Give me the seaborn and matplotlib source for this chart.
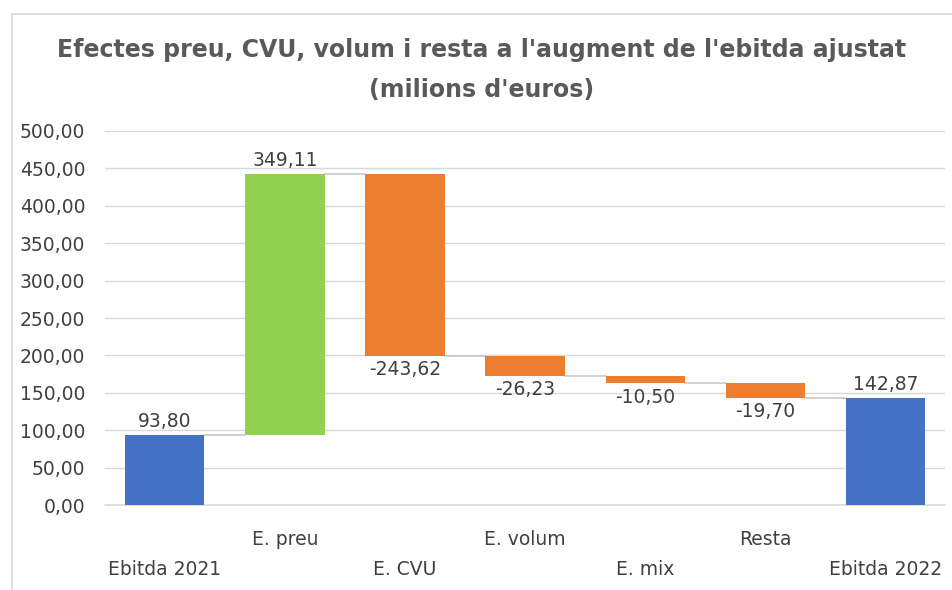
import numpy as np
import pandas as pd
import seaborn as sns
import matplotlib.pyplot as plt
from matplotlib.patches import Rectangle

# Waterfall data (milions d'euros)
categories = ['Ebitda 2021', 'E. preu', 'E. CVU', 'E. volum', 'E. mix', 'Resta', 'Ebitda 2022']
values = [93.80, 349.11, -243.62, -26.23, -10.50, -19.70, 142.87]
kinds = ['total', 'delta', 'delta', 'delta', 'delta', 'delta', 'total']
labels = ['93,80', '349,11', '-243,62', '-26,23', '-10,50', '-19,70', '142,87']

sns.set_theme(style='white')
plt.rcParams['font.family'] = ['DejaVu Sans']

# Running totals -> bottoms and heights of the floating bars
bottoms, heights, levels = [], [], []
run = 0.0
for v, k in zip(values, kinds):
    if k == 'total':
        bottoms.append(0.0)
        heights.append(v)
        run = v
    else:
        start = run
        run = run + v
        bottoms.append(min(start, run))
        heights.append(abs(v))
    levels.append(run)

df = pd.DataFrame({'cat': categories, 'height': heights, 'bottom': bottoms})

blue, green, orange = '#4472C4', '#92D050', '#ED7D31'
colors = [blue if k == 'total' else (green if v > 0 else orange) for v, k in zip(values, kinds)]

fig = plt.figure(figsize=(9.53, 5.90), dpi=100)
ax = fig.add_axes([0.110, 0.144, 0.882, 0.634])

sns.barplot(data=df, x='cat', y='height', bottom=df['bottom'].values, order=categories,
            color=blue, width=0.66, ax=ax, zorder=3)
for p, c in zip(ax.patches, colors):
    p.set_facecolor(c)
    p.set_edgecolor('none')

# connectors
w = 0.66
for i in range(len(categories) - 1):
    ax.plot([i + w / 2, i + 1 - w / 2], [levels[i], levels[i]], color='#C8C8C8', lw=1.2, zorder=2)

# data labels
for i, (v, k, lab) in enumerate(zip(values, kinds, labels)):
    top = bottoms[i] + heights[i]
    if v >= 0:
        ax.annotate(lab, (i, top), xytext=(0, 3), textcoords='offset points',
                    ha='center', va='bottom', fontsize=13.5, color='#404040')
    else:
        ax.annotate(lab, (i, bottoms[i]), xytext=(0, -3), textcoords='offset points',
                    ha='center', va='top', fontsize=13.5, color='#404040')

ax.set_ylim(0, 500)
ax.set_xlim(-0.5, len(categories) - 0.5)
ax.set_yticks(np.arange(0, 501, 50))
ax.set_yticklabels([f'{t:.2f}'.replace('.', ',') for t in np.arange(0, 501, 50)])
ax.yaxis.grid(True, color='#D9D9D9', lw=1, zorder=0)
ax.axhline(0, color='#D9D9D9', lw=1.2, zorder=1, clip_on=False)
ax.set_axisbelow(True)
for s in ax.spines.values():
    s.set_visible(False)

# staggered category labels
ax.set_xticks(range(len(categories)))
ax.set_xticklabels([c if i % 2 else '\n' + c for i, c in enumerate(categories)], linespacing=1.75)
ax.tick_params(axis='x', length=0, pad=18, labelsize=13.5, colors='#404040')
ax.tick_params(axis='y', length=0, pad=14, labelsize=13.5, colors='#404040')
ax.set_xlabel('')
ax.set_ylabel('')

fig.text(0.505, 0.915, "Efectes preu, CVU, volum i resta a l'augment de l'ebitda ajustat",
         ha='center', va='center', fontsize=17, fontweight='bold', color='#595959')
fig.text(0.505, 0.847, "(milions d'euros)",
         ha='center', va='center', fontsize=17, fontweight='bold', color='#595959')

fig.patches.append(Rectangle((12 / 953, -0.01), 1.0, 1 - 14 / 590 + 0.01, transform=fig.transFigure,
                             fill=False, edgecolor='#D9D9D9', lw=1.2))

fig.savefig('out.png', dpi=100)
